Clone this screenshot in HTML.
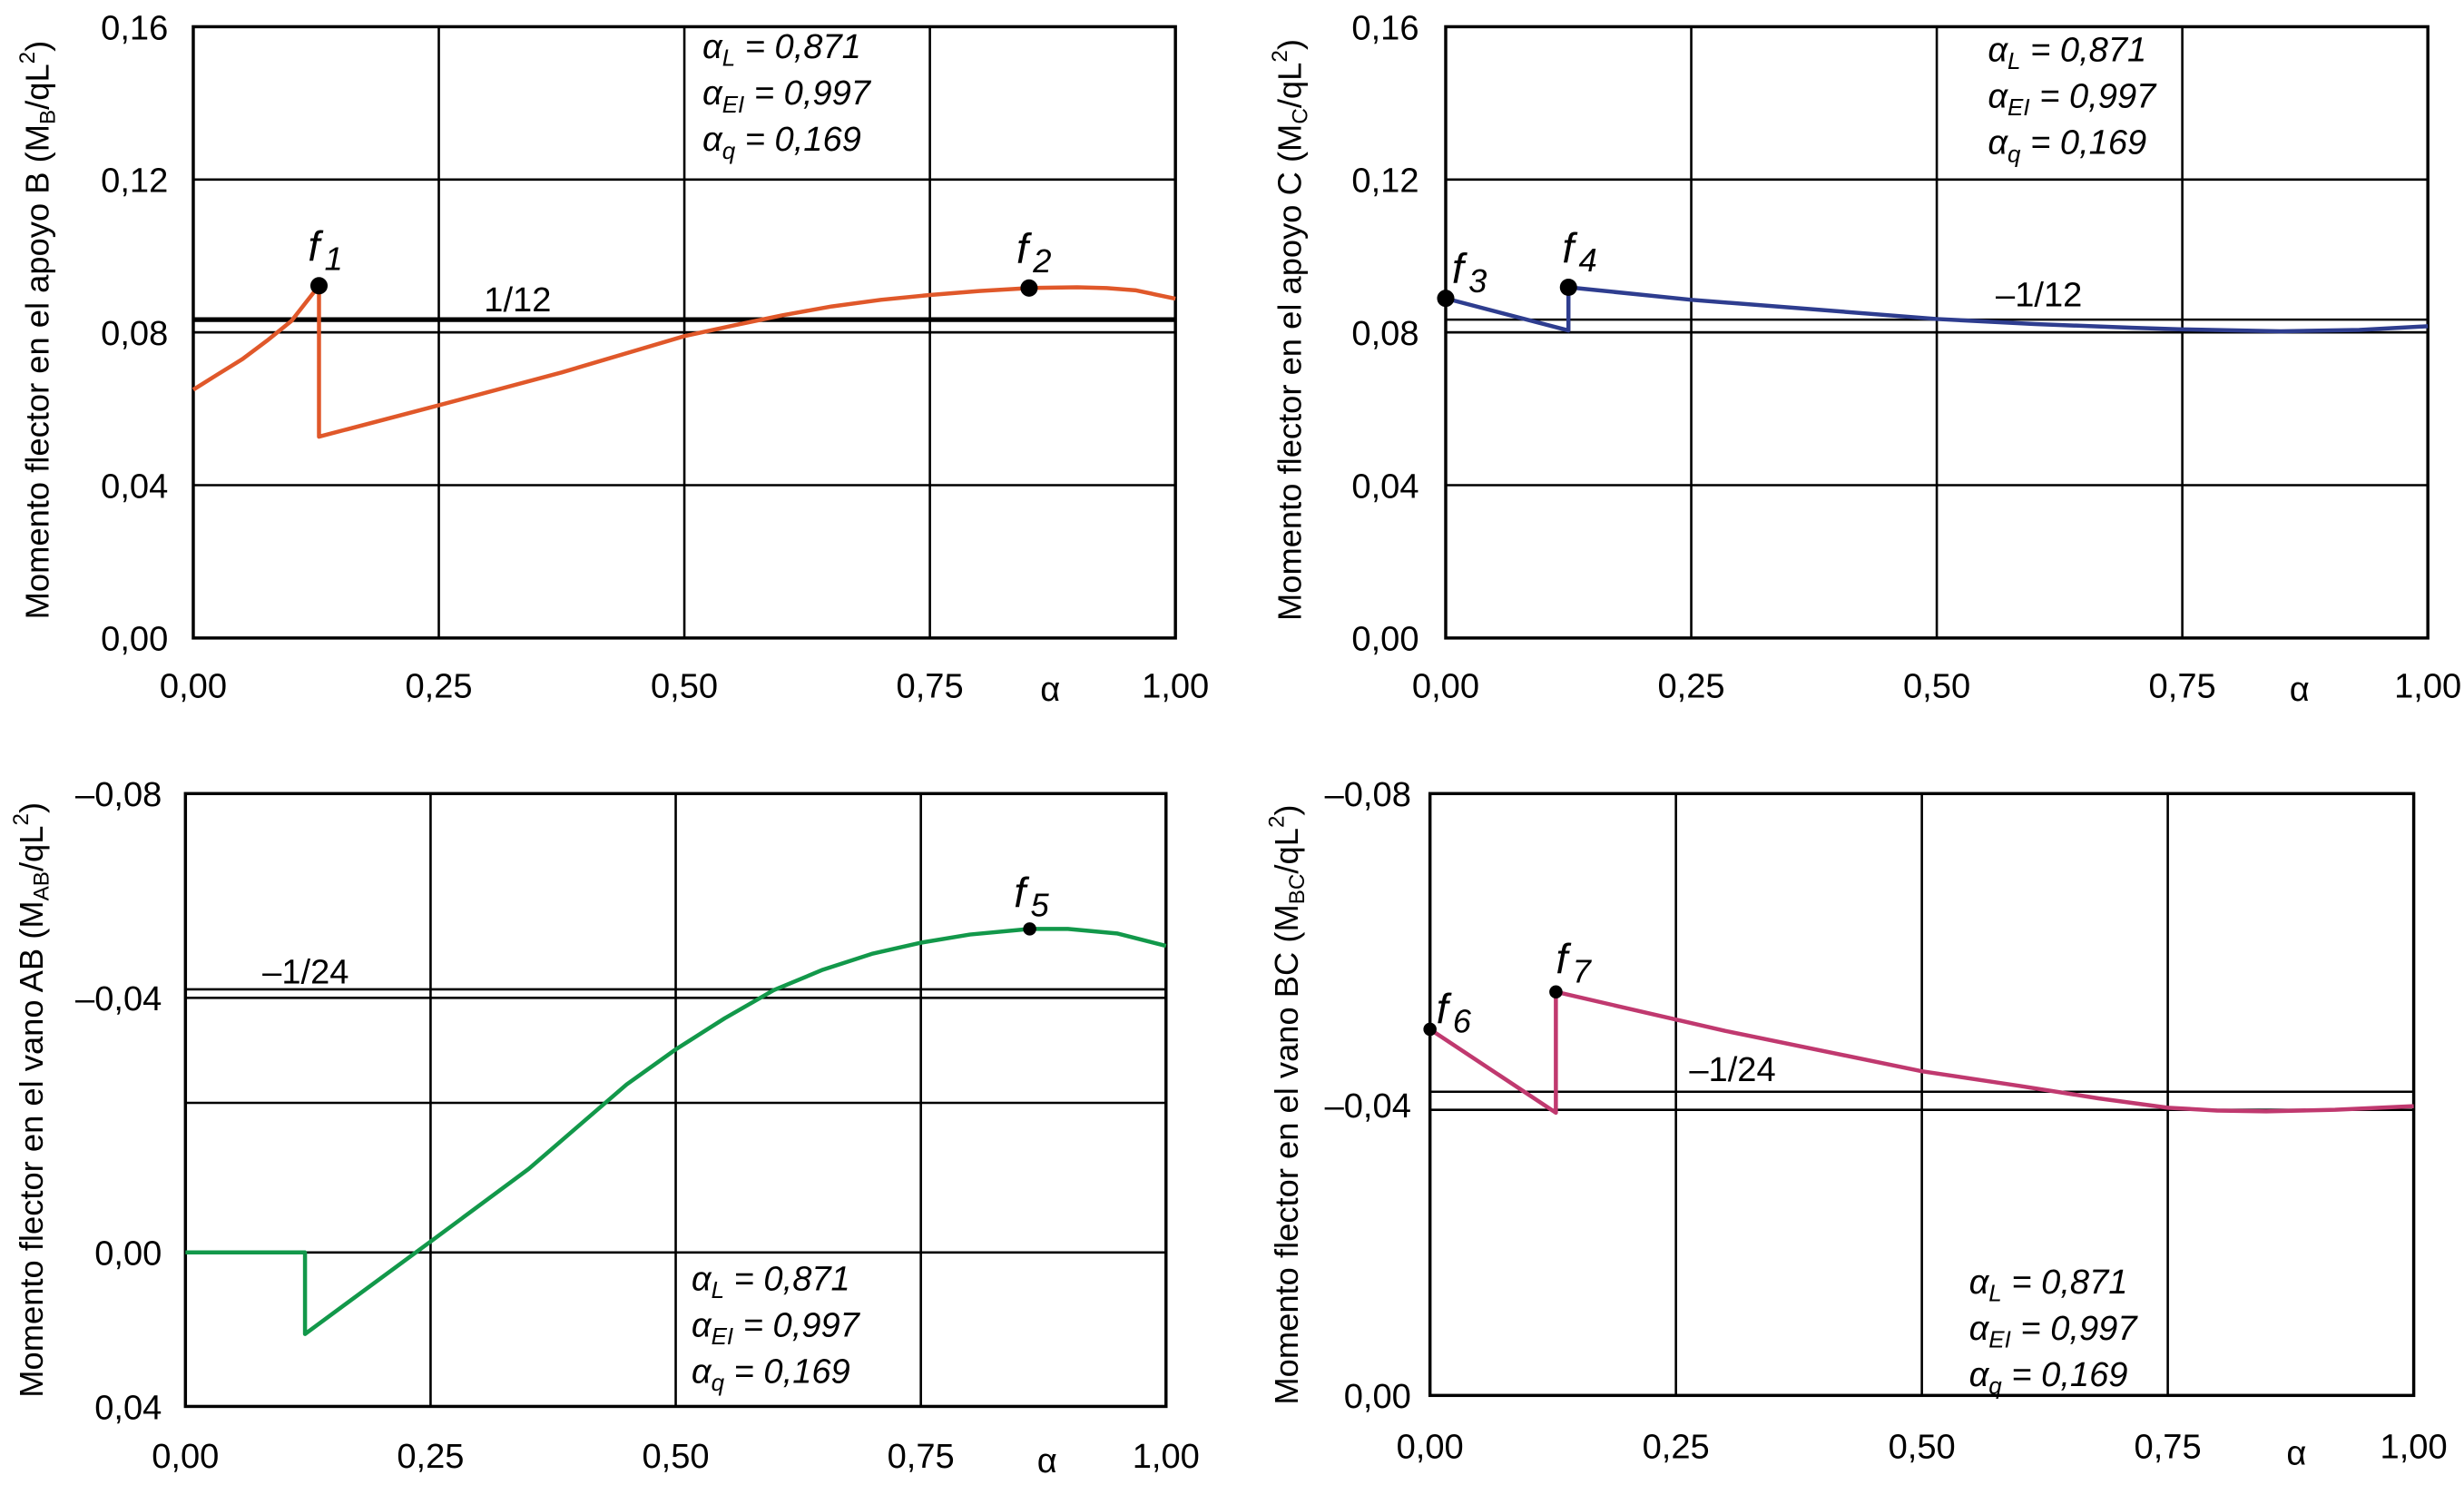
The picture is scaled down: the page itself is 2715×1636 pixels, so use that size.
<!DOCTYPE html>
<html><head><meta charset="utf-8"><style>
html,body{margin:0;padding:0;background:#fff;}
svg{display:block;}
text{font-family:"Liberation Sans",sans-serif;fill:#000;}
.tk{font-size:22px;}
.it{font-size:22px;font-style:italic;}
.ttl{font-size:21px;}
</style></head><body>
<svg id="c" width="2715" height="1636" viewBox="0 0 1568 945" preserveAspectRatio="none"></svg>
<script>
const xTicks=[0,0.25,0.5,0.75,1];
const xTickLabels=["0,00","0,25","0,50","0,75","1,00"];
const tlYTicks=[0,0.04,0.08,0.12,0.16];
const tlYLabels=["0,00","0,04","0,08","0,12","0,16"];
const blYTicks=[0.04,0,-0.04,-0.08];
const blYLabels=["0,04","0,00","\u20130,04","\u20130,08"];
const brYTicks=[0,-0.04,-0.08];
const brYLabels=["0,00","\u20130,04","\u20130,08"];
const seriesBx=[0,0.025,0.05,0.075,0.1,0.128,0.128,0.25,0.375,0.5,0.55,0.6,0.65,0.7,0.75,0.8,0.851,0.9,0.93,0.96,1];
const seriesBy=[0.065,0.069,0.073,0.0778,0.083,0.0922,0.0527,0.0609,0.0695,0.079,0.0818,0.0845,0.0868,0.0885,0.0898,0.0908,0.0916,0.0918,0.0916,0.091,0.0888];
const seriesCx=[0,0.125,0.125,0.25,0.5,0.6,0.7,0.75,0.85,0.93,1];
const seriesCy=[0.0889,0.0805,0.0918,0.0885,0.0835,0.0822,0.0812,0.0808,0.0803,0.0806,0.0816];
const seriesABx=[0,0.122,0.122,0.25,0.35,0.45,0.5,0.55,0.6,0.65,0.7,0.75,0.8,0.861,0.9,0.95,1];
const seriesABy=[0,0,0.0212,-0.0017,-0.0131,-0.0264,-0.0319,-0.0368,-0.0415,-0.0455,-0.0486,-0.0508,-0.0524,-0.0535,-0.0535,-0.0526,-0.0502];
const seriesBCx=[0,0.128,0.128,0.3,0.5,0.6,0.68,0.75,0.8,0.85,0.92,1];
const seriesBCy=[-0.0497,-0.0389,-0.0545,-0.0495,-0.0443,-0.0424,-0.0408,-0.0396,-0.0392,-0.0391,-0.0393,-0.0398];
const svg=document.getElementById('c');
const NS='http://www.w3.org/2000/svg';
function mk(tag,attrs,parent){const e=document.createElementNS(NS,tag);for(const k in attrs)e.setAttribute(k,attrs[k]);(parent||svg).appendChild(e);return e;}
function pw(knots){return v=>{for(let i=0;i<knots.length-1;i++){const a=knots[i],b=knots[i+1];if((v>=a[0]&&v<=b[0])||i===knots.length-2||(i===0&&v<a[0])){return a[1]+(v-a[0])/(b[0]-a[0])*(b[1]-a[1]);}}}}
function panel(o){
 const g=mk('g',{});
 
 
 const X=v=>o.x0+v*(o.x1-o.x0);
 xTicks.forEach((t,i)=>{const l=mk('line',{x1:X(t),x2:X(t),y1:o.yt,y2:o.yb,stroke:'#000','stroke-width':1.5},g);
  
  const tx=mk('text',{x:X(t),y:o.xly,'text-anchor':'middle',class:'tk'},g);tx.textContent=xTickLabels[i];
  });
 o.grid.forEach(v=>{const l=mk('line',{x1:o.x0,x2:o.x1,y1:o.Y(v),y2:o.Y(v),stroke:'#000','stroke-width':1.5},g);
  });
 o.yt_.forEach((t,i)=>{const tx=mk('text',{x:o.ylx,y:o.Y(t)+8,'text-anchor':'end',class:'tk'},g);tx.textContent=o.yl[i];
  });
 const fr=mk('rect',{x:o.x0,y:o.yt,width:o.x1-o.x0,height:o.yb-o.yt,fill:'none',stroke:'#000','stroke-width':2},g);
 
 o.refs.forEach(r=>{const l=mk('line',{x1:o.x0,x2:o.x1,y1:o.Y(r[0]),y2:o.Y(r[0]),stroke:'#000','stroke-width':r[1]},g);
  });
 const rl=mk('text',{x:o.refLabel[1],y:o.refLabel[2],class:'tk'},g);rl.textContent=o.refLabel[0];
 
 const pts=o.sx.map((x,i)=>X(x).toFixed(1)+','+o.Y(o.sy[i]).toFixed(1)).join(' ');
 const pl=mk('polyline',{points:pts,fill:'none',stroke:o.color,'stroke-width':2.6,'stroke-linejoin':'round'},g);
 
 o.marks.forEach(m=>{const i=m[0];const cx=X(o.sx[i]),cy=o.Y(o.sy[i]);
  const c=mk('circle',{cx:cx,cy:cy,r:o.r,fill:'#000'},g);
  
  const t=mk('text',{x:cx+m[2],y:cy+m[3],class:'it'},g);t.setAttribute('style','font-size:27px');
  t.textContent='f';const s=mk('tspan',{dx:3,dy:6,style:'font-size:21px'},t);s.textContent=m[1].slice(1);
  });
 const ps=[['L','0,871'],['EI','0,997'],['q','0,169']];
 ps.forEach((p,i)=>{const t=mk('text',{x:o.px,y:o.py+i*29.5,class:'it'},g);
  const a=mk('tspan',{},t);a.textContent='\u03b1';const s=mk('tspan',{dy:5,style:'font-size:15px'},t);s.textContent=p[0];
  const r=mk('tspan',{dy:-5},t);r.textContent=' = '+p[1];
  });
 const al=mk('text',{x:o.alpha[0],y:o.alpha[1],class:'tk'},g);al.textContent='\u03b1';
 
 const tt=mk('text',{x:0,y:0,class:'ttl',transform:`translate(${o.title[1]},${o.title[2]}) rotate(-90)`,'text-anchor':'middle'},g);
 
 const t1=mk('tspan',{},tt);t1.textContent=o.title[0]+' (M';
 const t2=mk('tspan',{dy:4,style:'font-size:14px'},tt);t2.textContent=o.title[3];
 const t3=mk('tspan',{dy:-4},tt);t3.textContent='/qL';
 const t4=mk('tspan',{dy:-9,style:'font-size:14px'},tt);t4.textContent='2';
 const t5=mk('tspan',{dy:9},tt);t5.textContent=')';
}
const YT=v=>406-(v/0.16)*389;
panel({name:'support-b-panel',x0:123,x1:748,yt:17,yb:406,Y:YT,grid:tlYTicks,yt_:tlYTicks,yl:tlYLabels,ylx:107,xly:444,
 refs:[[1/12,3],[0.08,1.5]],refLabel:['1/12',308,198],sx:seriesBx,sy:seriesBy,color:'#e0582a',r:5.5,
 marks:[[5,'f1',-7,-16],[16,'f2',-8,-16]],px:447,py:37,alpha:[662,446],title:['Momento flector en el apoyo B',31,210,'B']});
panel({name:'support-c-panel',x0:920,x1:1545,yt:17,yb:406,Y:YT,grid:tlYTicks,yt_:tlYTicks,yl:tlYLabels,ylx:903,xly:444,
 refs:[[1/12,1.5],[0.08,1.5]],refLabel:['\u20131/12',1270,195],sx:seriesCx,sy:seriesCy,color:'#2e3d8f',r:5.5,
 marks:[[0,'f3',4,-10],[2,'f4',-4,-16]],px:1265,py:39,alpha:[1457,446],title:['Momento flector en el apoyo C',828,210,'C']});
const YBL=pw([[-0.08,505],[-0.04,635],[0,797],[0.04,895]]);
panel({name:'span-ab-panel',x0:118,x1:742,yt:505,yb:895,Y:YBL,grid:[-0.0235,0],yt_:blYTicks,yl:blYLabels,ylx:103,xly:934,
 refs:[[-1/24,1.5],[-0.04,1.5]],refLabel:['\u20131/24',167,626],sx:seriesABx,sy:seriesABy,color:'#12984a',r:4.2,
 marks:[[13,'f5',-10,-14]],px:440,py:821,alpha:[660,937],title:['Momento flector en el vano AB',27,700,'AB']});
const YBR=pw([[-0.08,505],[-0.04,703],[0,888]]);
panel({name:'span-bc-panel',x0:910,x1:1536,yt:505,yb:888,Y:YBR,grid:[],yt_:brYTicks,yl:brYLabels,ylx:898,xly:928,
 refs:[[-1/24,1.5],[-0.0393,1.5]],refLabel:['\u20131/24',1075,688],sx:seriesBCx,sy:seriesBCy,color:'#c0396f',r:4.2,
 marks:[[0,'f6',4,-4],[2,'f7',0,-12]],px:1253,py:823,alpha:[1455,932],title:['Momento flector en el vano BC',826,703,'BC']});
</script>
</body></html>
